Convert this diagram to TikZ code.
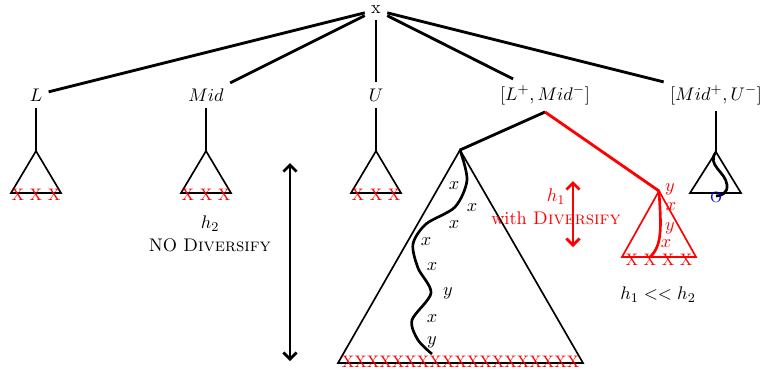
\documentclass[tikz,border=0pt,11pt]{standalone}
\usetikzlibrary{arrows.meta,positioning}

\begin{document}
\begin{tikzpicture}[x=0.6pt,y=-0.6pt,
  edge/.style={line width=1.7pt},
  tri/.style={line width=1pt},
  walk/.style={line width=1.6pt},
  span/.style={{Straight Barb[length=4pt,width=8pt]}-{Straight Barb[length=4pt,width=8pt]}, line width=1.6pt},
  leaves/.style={text=red, inner sep=0pt, anchor=base, font=\fontsize{10}{12}\selectfont},
  lab/.style={inner sep=0pt}
]
  \useasboundingbox (0,0) rectangle (761,369);

  % root and the five ranges
  \node (root) at (376,10) {x};
  \node (l) at (36,95) {$L$};
  \node (mid) at (206,95) {$Mid$};
  \node (u) at (376,95) {$U$};
  \node (lm) at (545,95) {$[L^{+}, Mid^{-}]$};
  \node (mu) at (716,95) {$[Mid^{+}, U^{-}]$};

  \foreach \n in {l,mid,u,lm,mu}
    \draw[edge] (root) -- (\n);

  % small subtrees
  \foreach \n/\c in {l/36,mid/206,u/376} {
    \coordinate (\n-apex) at (\c,151);
    \draw[edge] (\n) -- (\n-apex);
    \draw[tri] (\n-apex) -- ++(-25,42) -- ++(50,0) -- cycle;
    \node[leaves] (\n-leaves) at (\c,200) {X X X};
  }

  % split of [L+,Mid-]
  \coordinate (fork) at (545,112);
  \coordinate (big) at (460,150);
  \coordinate (small) at (659,191);
  \draw[edge] (fork) -- (big);
  \draw[edge, red] (fork) -- (small);

  \draw[tri] (big) -- (338,363) -- (583,363) -- cycle;
  \node[leaves] (big-leaves) at (460.5,367) {XXXXXXXXXXXXXXXXXXX};
  \draw[walk] plot[smooth, tension=0.5] coordinates {(460,150) (467,180) (455,207) (426,224) (413,244) (418,268) (431,293) (412,320) (418,340) (432,354)};
  \node[lab] (w1) at (454,186) {$x$};
  \node[lab] (w2) at (472,208) {$x$};
  \node[lab] (w3) at (454,225) {$x$};
  \node[lab] (w4) at (426,242) {$x$};
  \node[lab] (w5) at (432,267) {$x$};
  \node[lab] (w6) at (448,293) {$y$};
  \node[lab] (w7) at (432,319) {$x$};
  \node[lab] (w8) at (432,342) {$y$};

  \draw[tri, red] (small) -- (622,257) -- (696,257) -- cycle;
  \node[leaves] (small-leaves) at (659,265) {X X X X};
  \draw[walk, red] (small) .. controls (661,225) and (663,245) .. (650,257);
  \node[lab, red] (r1) at (670,189) {$y$};
  \node[lab, red] (r2) at (671,207) {$x$};
  \node[lab, red] (r3) at (670,228) {$y$};
  \node[lab, red] (r4) at (666,244) {$x$};

  % subtree of [Mid+,U-]
  \coordinate (mu-apex) at (716,152);
  \draw[edge] (mu) -- (mu-apex);
  \draw[tri] (mu-apex) -- (690,193) -- (741,193) -- cycle;
  \draw[walk] (mu-apex) .. controls (706,165) and (726,172) .. (727,185) .. controls (728,193) and (721,196) .. (716,196);
  \node[lab, text=blue, font=\footnotesize] (hit) at (716,197) {O};

  % heights
  \coordinate (h2-top) at (290,163);
  \coordinate (h2-bot) at (290,361);
  \draw[span] (h2-top) -- (h2-bot);
  \node[align=center] (nodiv) at (210,234) {$h_2$\\NO \textsc{Diversify}};

  \coordinate (h1-top) at (573,181);
  \coordinate (h1-bot) at (573,247);
  \draw[span, red] (h1-top) -- (h1-bot);
  \node[align=center, text=red] (withdiv) at (556,207) {$h_1$\\with \textsc{Diversify}};

  \node (cmp) at (658,295) {$h_1 << h_2$};
\end{tikzpicture}
\end{document}
